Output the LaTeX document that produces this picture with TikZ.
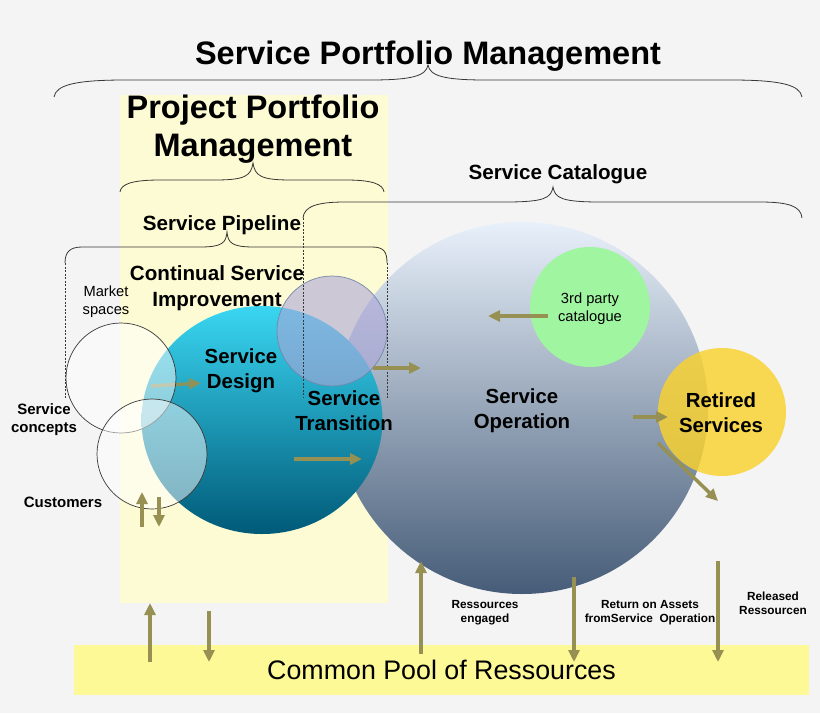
\documentclass[tikz,border=0pt]{standalone}
\usepackage{fontspec}
\setmainfont{Liberation Sans}
\usepackage{tikz}
\usetikzlibrary{shapes.geometric}
\usetikzlibrary{arrows.meta}
\usepackage{xcolor}
\definecolor{bggray}{RGB}{244,244,244}
\definecolor{ppmyellow}{RGB}{253,251,211}
\definecolor{poolyellow}{RGB}{253,249,150}
\definecolor{flowolive}{RGB}{150,145,82}
\definecolor{bracegray}{RGB}{55,55,55}
\definecolor{sotop}{RGB}{232,240,250}
\definecolor{somid}{RGB}{168,183,203}
\definecolor{sobottom}{RGB}{70,92,120}
\definecolor{sdtop}{RGB}{58,214,242}
\definecolor{sdmid}{RGB}{22,178,214}
\definecolor{sdbottom}{RGB}{0,90,120}
\definecolor{csifill}{RGB}{172,166,216}
\definecolor{csiedge}{RGB}{115,135,170}
\definecolor{tpgreen}{RGB}{160,245,160}
\definecolor{retgold}{RGB}{250,210,45}

\begin{document}
\begin{tikzpicture}[x=1pt,y=-1pt,>={Triangle[length=12pt,width=11pt]},
    disc/.style={circle,inner sep=0pt},
    flow/.style={->,draw=flowolive,line width=3.5pt},
    brace line/.style={draw=bracegray,line width=0.8pt},
    guide line/.style={draw=bracegray,line width=0.6pt,dash pattern=on 2pt off 1.5pt},
    big label/.style={font=\bfseries\fontsize{32.5}{38}\selectfont,align=center,inner sep=0pt},
    head label/.style={font=\bfseries\fontsize{20.6}{26}\selectfont,align=center,inner sep=0pt},
    phase label/.style={font=\bfseries\fontsize{20.4}{25}\selectfont,align=center,inner sep=0pt},
    small label/.style={font=\fontsize{14.7}{18}\selectfont,align=center,inner sep=0pt},
    side label/.style={font=\bfseries\fontsize{15}{18}\selectfont,align=center,inner sep=0pt},
    note label/.style={font=\bfseries\fontsize{11.8}{14}\selectfont,align=center,inner sep=0pt}]
    \useasboundingbox (0,0) rectangle (820,713);

    % Background
      \fill[bggray] (0,0) rectangle (820,713);
      \fill[ppmyellow] (120,95) rectangle (388,603);
      \node (pool) at (441.5,670) [fill=poolyellow,minimum width=735pt,minimum height=50pt,
        inner sep=0pt,font=\fontsize{26.8}{30}\selectfont] {Common Pool of Ressources};

    % Braces
      %Service Portfolio Management
      \draw[brace line] (54,97) .. controls (56,85) and (75,80) .. (125,80) -- (370,80)
        .. controls (412,80) and (426,76) .. (428,65)
        .. controls (430,76) and (444,80) .. (486,80) -- (731,80)
        .. controls (781,80) and (800,85) .. (802,97);
      %Project Portfolio Management
      \draw[brace line] (120,192) .. controls (121,184) and (132,180) .. (160,180) -- (215,180)
        .. controls (245,180) and (251,176) .. (253,163)
        .. controls (255,176) and (261,180) .. (291,180) -- (346,180)
        .. controls (372,180) and (383,184) .. (384,192);
      %Service Catalogue
      \draw[brace line] (303,218) .. controls (304,206) and (318,202) .. (345,202) -- (505,202)
        .. controls (545,202) and (551,198) .. (553,187)
        .. controls (555,198) and (561,202) .. (601,202) -- (760,202)
        .. controls (788,202) and (801,206) .. (802,218);
      %Service Pipeline
      \draw[brace line] (65,263) .. controls (65,252) and (70,247) .. (82,247) -- (200,247)
        .. controls (222,247) and (226,243) .. (227,232)
        .. controls (228,243) and (232,247) .. (254,247) -- (372,247)
        .. controls (384,247) and (387,252) .. (387,263);

    % Circles
      \node (so) at (522,408) [disc,minimum size=372pt,
        top color=sotop,middle color=somid,bottom color=sobottom] {};
      \node (tpc) at (590,307) [disc,minimum size=120pt,fill=tpgreen] {};
      \node (sd) at (262,420) [ellipse,inner sep=0pt,minimum width=241pt,minimum height=228pt,
        top color=sdtop,middle color=sdmid,bottom color=sdbottom] {};
      \node (rs) at (722,412) [disc,minimum size=128pt,fill=retgold,fill opacity=0.82] {};

      \coordinate (ms out) at (151,386);
      \coordinate (sd in) at (201,383);
      \draw[flow,draw opacity=0.85] (ms out) -- (sd in);

      \node (ms) at (121,378) [disc,minimum size=110pt,draw=bracegray,line width=0.7pt,
        fill=white,fill opacity=0.5] {};
      \node (cu) at (152,454) [disc,minimum size=110pt,draw=bracegray,line width=0.7pt,
        fill=white,fill opacity=0.5] {};
      \node (csi) at (332,331) [disc,minimum size=110pt,draw=csiedge,line width=0.7pt,
        fill=csifill,fill opacity=0.6] {};

      \draw[guide line] (65,263) -- (65,398);
      \draw[guide line] (387,263) -- (387,398);
      \draw[guide line] (303,218) -- (303,398);

    % Labels
      \node (spm) at (428,56.5) [big label] {Service Portfolio Management};
      \node (ppm) at (253,129.5) [big label] {Project Portfolio\\Management};
      \node (sc) at (558,174.5) [head label] {Service Catalogue};
      \node (sp) at (222,225.5) [head label] {Service Pipeline};
      \node (csit) at (217,288) [head label] {Continual Service\\Improvement};
      \node (mst) at (106,301.5) [small label] {Market\\spaces};
      \node (sdt) at (241,370.5) [phase label] {Service\\Design};
      \node (stt) at (344,410.5) [phase label] {Service\\Transition};
      \node (sot) at (522,410.5) [phase label] {Service\\Operation};
      \node (tpct) at (590,308.5) [small label] {3rd party\\catalogue};
      \node (rst) at (721,412.5) [phase label] {Retired\\Services};
      \node (sct) at (44,419.5) [side label] {Service\\concepts};
      \node (cut) at (63,502) [side label] {Customers};
      \node (re) at (485,613) [note label] {Ressources\\engaged};
      \node (ra) at (650,613) [note label] {Return on Assets\\fromService~~Operation};
      \node (rr) at (773,603.5) [note label] {Released\\Ressourcen};

    % Flows
      \coordinate (st out) at (373,368);
      \coordinate (so in) at (421,368);
      \coordinate (sd mid) at (294,459);
      \coordinate (so mid) at (362,459);
      \coordinate (tpc out) at (548,316);
      \coordinate (so top) at (488,316);
      \coordinate (so right) at (633,417);
      \coordinate (rs in) at (668,417);
      \coordinate (rs out) at (658,443);
      \coordinate (rs away) at (718,501);
      \coordinate (cu up a) at (142,527);
      \coordinate (cu up b) at (142,492);
      \coordinate (cu dn a) at (159,497);
      \coordinate (cu dn b) at (159,527);
      \coordinate (ppm up a) at (150,662);
      \coordinate (ppm up b) at (150,603);
      \coordinate (ppm dn a) at (209,611);
      \coordinate (ppm dn b) at (209,662);
      \coordinate (eng a) at (421,654);
      \coordinate (eng b) at (421,561);
      \coordinate (roa a) at (574,577);
      \coordinate (roa b) at (574,662);
      \coordinate (rel a) at (718,561);
      \coordinate (rel b) at (718,662);

      \draw[flow] (st out) -- (so in);
      \draw[flow] (sd mid) -- (so mid);
      \draw[flow] (tpc out) -- (so top);
      \draw[flow] (so right) -- (rs in);
      \draw[flow] (rs out) -- (rs away);
      \draw[flow] (cu up a) -- (cu up b);
      \draw[flow] (cu dn a) -- (cu dn b);
      \draw[flow] (ppm up a) -- (ppm up b);
      \draw[flow] (ppm dn a) -- (ppm dn b);
      \draw[flow] (eng a) -- (eng b);
      \draw[flow] (roa a) -- (roa b);
      \draw[flow] (rel a) -- (rel b);

\end{tikzpicture}
\end{document}
